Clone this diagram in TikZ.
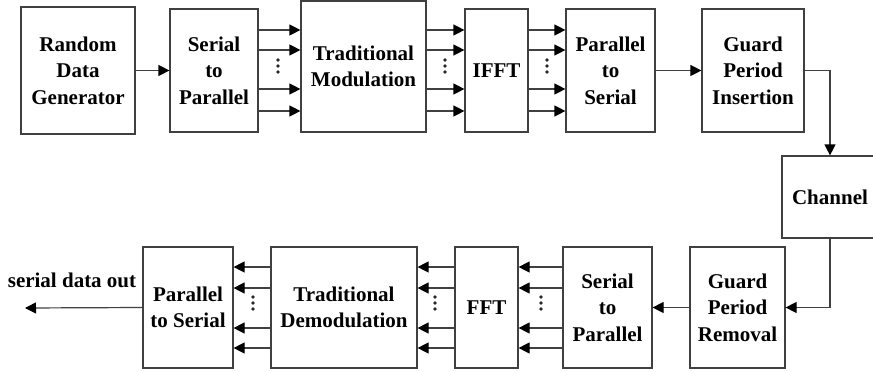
\documentclass[tikz,border=0pt]{standalone}
\usepackage{fontspec}
\setmainfont{Liberation Serif}
\usetikzlibrary{arrows.meta}
\tikzset{
  blk/.style={draw=black!75, line width=1.2pt, align=center, font=\fontsize{21}{26.5}\selectfont\bfseries, inner sep=0pt},
  arr/.style={draw=black!75, line width=1.2pt, -{Triangle[length=11pt,width=11pt,color=black]}},
  lbl/.style={font=\fontsize{21}{26}\selectfont\bfseries, inner sep=0pt}
}
\newcommand{\vdt}[2]{\fill[black!85] (#1,#2-6) circle (1.9) (#1,#2) circle (1.9) (#1,#2+6) circle (1.9);}
\begin{document}
\begin{tikzpicture}[x=1pt,y=-1pt]
\useasboundingbox (0,0) rectangle (873,372);
% top row
\node[blk, minimum width=114, minimum height=127] (rdg) at (78,70.5) {Random\\Data\\Generator};
\node[blk, minimum width=88, minimum height=123] (sp1) at (214,70.5) {Serial\\to\\Parallel};
\node[blk, minimum width=125, minimum height=131] (tm) at (363.5,66.5) {Traditional\\Modulation};
\node[blk, minimum width=63, minimum height=123] (ifft) at (496.5,70.5) {IFFT};
\node[blk, minimum width=89, minimum height=123] (ps1) at (610.5,70.5) {Parallel\\to\\Serial};
\node[blk, minimum width=102, minimum height=123] (gpi) at (753,70.5) {Guard\\Period\\Insertion};
\node[blk, minimum width=96, minimum height=82] (ch) at (830,197) {Channel};
% bottom row
\node[blk, minimum width=95, minimum height=121] (gpr) at (737.5,307.5) {Guard\\Period\\Removal};
\node[blk, minimum width=89, minimum height=121] (sp2) at (607.5,307.5) {Serial\\to\\Parallel};
\node[blk, minimum width=63, minimum height=121] (fft) at (486.5,307.5) {FFT};
\node[blk, minimum width=146, minimum height=121] (td) at (344,307.5) {Traditional\\Demodulation};
\node[blk, minimum width=90, minimum height=121] (ps2) at (188,307.5) {Parallel\\to Serial};
\coordinate (out) at (25,308);
\node[lbl] (sdo) at (72,280) {serial data out};
% connectors
\draw[arr] (rdg.east) -- (sp1.west);
\foreach \yy in {30,50,89,111} {
  \draw[arr] (sp1.east |- 0,\yy) -- (tm.west |- 0,\yy);
  \draw[arr] (tm.east |- 0,\yy) -- (ifft.west |- 0,\yy);
  \draw[arr] (ifft.east |- 0,\yy) -- (ps1.west |- 0,\yy);
}
\draw[arr] (ps1.east) -- (gpi.west);
\draw[arr] (gpi.east) -| (ch.north);
\draw[arr] (ch.south) |- (gpr.east);
\draw[arr] (gpr.west) -- (sp2.east);
\foreach \yy in {267,288,328,348} {
  \draw[arr] (sp2.west |- 0,\yy) -- (fft.east |- 0,\yy);
  \draw[arr] (fft.west |- 0,\yy) -- (td.east |- 0,\yy);
  \draw[arr] (td.west |- 0,\yy) -- (ps2.east |- 0,\yy);
}
\draw[arr] (ps2.west) -- (out);
% dots
\vdt{278}{66}
\vdt{445}{66}
\vdt{547}{66}
\vdt{253}{303}
\vdt{435}{303}
\vdt{541}{303}
\end{tikzpicture}
\end{document}
